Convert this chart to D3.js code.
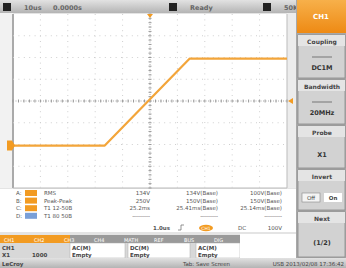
<!DOCTYPE html>
<html><head><meta charset="utf-8">
<script src="https://cdn.jsdelivr.net/npm/d3@7"></script>
<style>html,body{margin:0;padding:0;background:#e4e4e4;overflow:hidden}svg{display:block}text{font-family:"DejaVu Sans",sans-serif}</style>
</head><body><svg id="c" width="346" height="268"></svg>
<script>
// ---- data ----
const traceTime = [-5, -1.65, 1.45, 5];          // divisions
const traceVolt = [-2.05, -2.05, 1.95, 1.95];    // divisions
const timebase = "10us", delay = "0.0000s", trigState = "Ready", memDepth = "50K";
const menuTitles = ["CH1", "Coupling", "Bandwidth", "Probe", "Invert", "Next"];
const menuValues = ["", "DC1M", "20MHz", "X1", "Off  On", "(1/2)"];
const measLetters = ["A", "B", "C", "D"];
const measNames = ["RMS", "Peak-Peak", "T1  12-50B", "T1  80 50B"];
const measVals = ["134V", "250V", "25.2ms", "---------"];
const measCur = ["134V(Base)", "150V(Base)", "25.41ms(Base)", "---------"];
const measRef = ["100V(Base)", "150V(Base)", "25.14ms(Base)", "---------"];
const trigInfo = ["1.0us", "DC", "100V"];
const statusTexts = ["LeCroy", "Tab: Save Screen", "USB 2013/02/08 17:36:42"];

const svg = d3.select("#c");
const defs = svg.append("defs");
const g1 = defs.append("linearGradient").attr("id","bar").attr("x1",0).attr("y1",0).attr("x2",0).attr("y2",1);
g1.append("stop").attr("offset",0).attr("stop-color","#e2e2e2");
g1.append("stop").attr("offset",1).attr("stop-color","#b4b4b4");
const g2 = defs.append("linearGradient").attr("id","btn").attr("x1",0).attr("y1",0).attr("x2",0).attr("y2",1);
g2.append("stop").attr("offset",0).attr("stop-color","#f7b04a");
g2.append("stop").attr("offset",1).attr("stop-color","#ee8a14");

const X0 = 13, X1 = 287, Y0 = 14, Y1 = 188;
const x = d3.scaleLinear().domain([-5,5]).range([X0,X1]);
const y = d3.scaleLinear().domain([-4,4]).range([Y1,Y0]);
const orange = "#f29b22";
const traceColor = "#f3a53a";
const txt = "#555";

// top bar
svg.append("rect").attr("x",0).attr("y",0).attr("width",296).attr("height",13).attr("fill","url(#bar)");
[[3,timebase,delay],[169,trigState,""],[263,memDepth,""]].forEach(([px,a,b])=>{
  svg.append("rect").attr("x",px).attr("y",3).attr("width",8).attr("height",8).attr("fill","#222");
  svg.append("text").attr("x",px+21).attr("y",10).attr("font-size",6.5).attr("font-weight","bold").attr("fill","#666").text(a);
  if(b) svg.append("text").attr("x",px+50).attr("y",10).attr("font-size",6.5).attr("font-weight","bold").attr("fill","#666").text(b);
});

// plot area
svg.append("rect").attr("x",0).attr("y",13).attr("width",X0).attr("height",Y1-13).attr("fill","#f2f2f2");
svg.append("rect").attr("x",X0).attr("y",Y0).attr("width",X1-X0).attr("height",Y1-Y0).attr("fill","#fff");
svg.append("line").attr("x1",X0).attr("x2",X0).attr("y1",Y0).attr("y2",Y1).attr("stroke","#aaa").attr("stroke-width",2);
svg.append("rect").attr("x",X1).attr("y",13).attr("width",9).attr("height",Y1-13).attr("fill","#ececec");
svg.append("line").attr("x1",X1).attr("x2",X1).attr("y1",Y0).attr("y2",Y1).attr("stroke","#bbb");
svg.append("line").attr("x1",X0).attr("x2",X1).attr("y1",Y1).attr("y2",Y1).attr("stroke","#bbb");

const grid = svg.append("g");
d3.range(-4,5).forEach(d=>{ if(d===0) return;
  grid.append("line").attr("x1",x(d)).attr("x2",x(d)).attr("y1",Y0).attr("y2",Y1)
    .attr("stroke","#cfcfcf").attr("stroke-dasharray","1,4.4");
});
d3.range(-3,4).forEach(d=>{ if(d===0) return;
  grid.append("line").attr("x1",X0).attr("x2",X1).attr("y1",y(d)).attr("y2",y(d))
    .attr("stroke","#cfcfcf").attr("stroke-dasharray","1,4.4");
});
grid.append("line").attr("x1",X0).attr("x2",X1).attr("y1",y(0)).attr("y2",y(0)).attr("stroke","#aaa").attr("stroke-dasharray","1,1.5");
grid.append("line").attr("x1",x(0)).attr("x2",x(0)).attr("y1",Y0).attr("y2",Y1).attr("stroke","#aaa").attr("stroke-dasharray","1,1.5");
d3.range(-5,5.01,0.2).forEach(d=>{
  grid.append("line").attr("x1",x(d)).attr("x2",x(d)).attr("y1",y(0)-1.5).attr("y2",y(0)+1.5).attr("stroke","#999");
});
d3.range(-4,4.01,0.2).forEach(d=>{
  grid.append("line").attr("x1",x(0)-1.5).attr("x2",x(0)+1.5).attr("y1",y(d)).attr("y2",y(d)).attr("stroke","#999");
});

// trace
const line = d3.line().x((d,i)=>x(traceTime[i])).y((d,i)=>y(traceVolt[i]));
svg.append("path").datum(traceTime).attr("d",line).attr("fill","none").attr("stroke",traceColor).attr("stroke-width",2.2).attr("stroke-linejoin","round");
// channel marker and trigger markers
svg.append("path").attr("d",`M${X0-6},${y(-2.05)-5}h5l3,5l-3,5h-5z`).attr("fill",orange);
svg.append("path").attr("d",`M${X1+1},${y(0)}l5,-3v6z`).attr("fill",orange);
svg.append("path").attr("d",`M${x(0)-3},${Y0}h6l-3,4z`).attr("fill",orange);

// right menu panel
const PX = 296, PW = 50;
svg.append("rect").attr("x",PX).attr("y",0).attr("width",PW).attr("height",258).attr("fill","#a8a8a8");
const menuY = [0,35,80,126,170,212], menuH=[33,43,44,42,40,45];
menuTitles.forEach((t,i)=>{
  const yy = menuY[i], h = menuH[i];
  if(i===0){
    svg.append("rect").attr("x",PX+1).attr("y",yy).attr("width",PW-1).attr("height",h).attr("fill","url(#btn)");
    svg.append("text").attr("x",PX+PW/2).attr("y",yy+h/2+2.5).attr("text-anchor","middle").attr("font-size",7).attr("font-weight","bold").attr("fill","#fff").text(t);
    return;
  }
  svg.append("rect").attr("x",PX+2).attr("y",yy).attr("width",PW-3).attr("height",h).attr("fill","#d2d2d2").attr("stroke","#8a8a8a").attr("stroke-width",0.8);
  svg.append("rect").attr("x",PX+2).attr("y",yy).attr("width",PW-3).attr("height",11).attr("fill","#e4e4e4");
  svg.append("text").attr("x",PX+PW/2+1).attr("y",yy+8.5).attr("text-anchor","middle").attr("font-size",6).attr("font-weight","bold").attr("fill","#444").text(t);
  if(i===1||i===2){
    svg.append("line").attr("x1",PX+16).attr("x2",PX+36).attr("y1",yy+22).attr("y2",yy+22).attr("stroke","#777");
  }
  if(i===4){
    svg.append("rect").attr("x",PX+6).attr("y",yy+23).attr("width",18).attr("height",9).attr("fill","#f4f4f4").attr("stroke","#888").attr("stroke-width",0.6);
    svg.append("rect").attr("x",PX+28).attr("y",yy+23).attr("width",18).attr("height",9).attr("fill","#fff");
    svg.append("text").attr("x",PX+15).attr("y",yy+30).attr("text-anchor","middle").attr("font-size",5.5).attr("fill","#444").text("Off");
    svg.append("text").attr("x",PX+37).attr("y",yy+30).attr("text-anchor","middle").attr("font-size",5.5).attr("font-weight","bold").attr("fill","#444").text("On");
  } else {
    const vy = (i===1||i===2)? yy+35 : yy+h/2+10;
    svg.append("text").attr("x",PX+PW/2+1).attr("y",vy).attr("text-anchor","middle").attr("font-size",6.5).attr("font-weight","bold").attr("fill","#333").text(menuValues[i]);
  }
});

// measurement area
svg.append("rect").attr("x",0).attr("y",Y1+1).attr("width",PX).attr("height",43).attr("fill","#fff");
measLetters.forEach((l,i)=>{
  const yy = 195 + i*7.6;
  svg.append("text").attr("x",16).attr("y",yy).attr("font-size",5.5).attr("fill",txt).text(l+":");
  svg.append("rect").attr("x",25).attr("y",yy-5).attr("width",12).attr("height",6).attr("fill", i===3? "#7aa0d8": orange);
  svg.append("text").attr("x",44).attr("y",yy).attr("font-size",5.5).attr("fill",txt).text(measNames[i]);
  svg.append("text").attr("x",150).attr("y",yy).attr("text-anchor","end").attr("font-size",5.5).attr("fill",txt).text(measVals[i]);
  svg.append("text").attr("x",218).attr("y",yy).attr("text-anchor","end").attr("font-size",5.5).attr("fill",txt).text(measCur[i]);
  svg.append("text").attr("x",282).attr("y",yy).attr("text-anchor","end").attr("font-size",5.5).attr("fill",txt).text(measRef[i]);
});
// trigger info line
svg.append("text").attr("x",170).attr("y",230).attr("text-anchor","end").attr("font-size",5.5).attr("font-weight","bold").attr("fill",txt).text(trigInfo[0]);
svg.append("path").attr("d","M178,230h3v-5h3").attr("fill","none").attr("stroke","#666").attr("stroke-width",0.7);
svg.append("ellipse").attr("cx",206).attr("cy",228).attr("rx",7).attr("ry",3.2).attr("fill",orange);
svg.append("text").attr("x",206).attr("y",230).attr("text-anchor","middle").attr("font-size",4.5).attr("fill","#fff").text("CH1");
svg.append("text").attr("x",238).attr("y",230).attr("font-size",5.5).attr("fill",txt).text(trigInfo[1]);
svg.append("text").attr("x",282).attr("y",230).attr("text-anchor","end").attr("font-size",5.5).attr("fill",txt).text(trigInfo[2]);

// bottom tab strip
svg.append("rect").attr("x",0).attr("y",235).attr("width",240).attr("height",8).attr("fill","#9a9a9a");
svg.append("rect").attr("x",0).attr("y",235).attr("width",70).attr("height",8).attr("fill",orange);
d3.range(8).forEach(i=>{
  svg.append("text").attr("x",4+i*30).attr("y",241.5).attr("font-size",5).attr("fill","#fff").text(["CH1","CH2","CH3","CH4","MATH","REF","BUS","DIG"][i]);
});
svg.append("rect").attr("x",0).attr("y",243).attr("width",240).attr("height",15).attr("fill","#d8d8d8");
[[70,55],[128,62],[196,44]].forEach(([bx,bw])=>{
  svg.append("rect").attr("x",bx).attr("y",243).attr("width",bw).attr("height",15).attr("fill","#fff").attr("stroke","#aaa").attr("stroke-width",0.5);
});
svg.append("rect").attr("x",240).attr("y",234).attr("width",56).attr("height",24).attr("fill","#fff");
const rowsA = [["CH1",2],["AC(M)",72],["DC(M)",130],["AC(M)",198]];
const rowsB = [["X1",2],["1000",32],["Empty",72],["Empty",130],["Empty",198]];
rowsA.forEach(([t,px])=>svg.append("text").attr("x",px).attr("y",249.5).attr("font-size",5.5).attr("font-weight","bold").attr("fill","#444").text(t));
rowsB.forEach(([t,px])=>svg.append("text").attr("x",px).attr("y",256.5).attr("font-size",5.5).attr("font-weight","bold").attr("fill","#444").text(t));

// status bar
svg.append("rect").attr("x",0).attr("y",258).attr("width",346).attr("height",10).attr("fill","url(#bar)");
svg.append("text").attr("x",2).attr("y",266).attr("font-size",5.5).attr("font-weight","bold").attr("fill","#444").text(statusTexts[0]);
svg.append("text").attr("x",183).attr("y",266).attr("font-size",5.5).attr("fill","#444").text(statusTexts[1]);
svg.append("text").attr("x",344).attr("y",266).attr("text-anchor","end").attr("font-size",5.5).attr("fill","#444").text(statusTexts[2]);
</script></body></html>
